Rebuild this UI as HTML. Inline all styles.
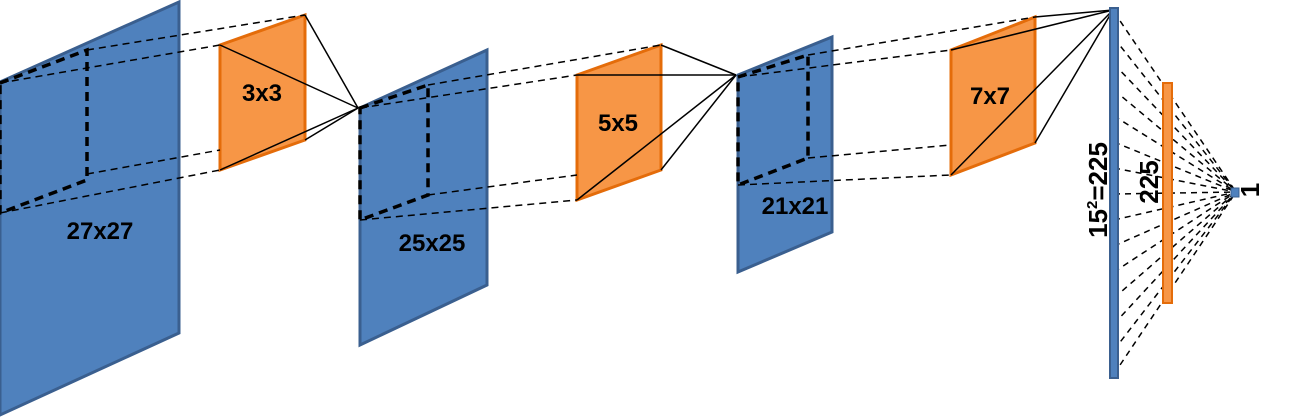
<!DOCTYPE html>
<html><head><style>body{margin:0;background:#fff}svg{display:block}text{font-family:"Liberation Sans",sans-serif;font-weight:bold}</style></head>
<body>
<svg width="1290" height="418" viewBox="0 0 1290 418" xmlns="http://www.w3.org/2000/svg">
<g stroke="#3a5f8f" stroke-width="3" fill="#4f81bd">
<polygon points="0,82 179,2 179,333 0,415"/>
<polygon points="360,108 487,50 487,285 360,345"/>
<polygon points="738,75 832,37 832,232 738,272"/>
</g>
<g stroke="#e46c0a" stroke-width="3" fill="#f79646">
<polygon points="220,45 305,15 305,140 220,170"/>
<polygon points="577,75 661,45 661,170 577,200"/>
<polygon points="951,50 1035,17 1035,143 951,175"/>
</g>
<g stroke="#000" stroke-width="3.5" stroke-dasharray="9,6" fill="none">
<polygon points="0,83 87,50 87,180 0,213"/>
<polygon points="360,108 428,85 428,195 360,220"/>
<polygon points="738,77 808,55 808,158 738,185"/>
</g>
<g stroke="#000" stroke-width="1.5" stroke-dasharray="7,5">
<line x1="87" y1="50" x2="305" y2="15"/><line x1="0" y1="83" x2="220" y2="45"/>
<line x1="87" y1="174" x2="220" y2="150"/><line x1="0" y1="213" x2="220" y2="170"/>
<line x1="428" y1="85" x2="661" y2="45"/><line x1="360" y1="108" x2="577" y2="75"/>
<line x1="428" y1="195" x2="577" y2="175"/><line x1="360" y1="220" x2="577" y2="200"/>
<line x1="808" y1="55" x2="1035" y2="17"/><line x1="738" y1="77" x2="951" y2="50"/>
<line x1="808" y1="158" x2="951" y2="145"/><line x1="738" y1="185" x2="951" y2="175"/>
</g>
<g stroke="#000" stroke-width="1.5">
<line x1="305" y1="15" x2="358" y2="108"/><line x1="220" y1="45" x2="358" y2="108"/>
<line x1="305" y1="140" x2="358" y2="108"/><line x1="220" y1="170" x2="358" y2="108"/>
<line x1="661" y1="45" x2="736" y2="75"/><line x1="577" y1="75" x2="736" y2="75"/>
<line x1="661" y1="170" x2="736" y2="75"/><line x1="577" y1="200" x2="736" y2="75"/>
<line x1="1035" y1="17" x2="1113" y2="10"/><line x1="951" y1="50" x2="1113" y2="10"/>
<line x1="1035" y1="143" x2="1113" y2="10"/><line x1="951" y1="175" x2="1113" y2="10"/>
</g>
<g stroke="#000" stroke-width="1.5" stroke-dasharray="6,5">
<line x1="1114" y1="12" x2="1236" y2="192"/><line x1="1114" y1="38" x2="1236" y2="192"/>
<line x1="1114" y1="64" x2="1236" y2="192"/><line x1="1114" y1="90" x2="1236" y2="192"/>
<line x1="1114" y1="116" x2="1236" y2="192"/><line x1="1114" y1="142" x2="1236" y2="192"/>
<line x1="1114" y1="168" x2="1236" y2="192"/><line x1="1114" y1="194" x2="1236" y2="192"/>
<line x1="1114" y1="220" x2="1236" y2="192"/><line x1="1114" y1="246" x2="1236" y2="192"/>
<line x1="1114" y1="272" x2="1236" y2="192"/><line x1="1114" y1="298" x2="1236" y2="192"/>
<line x1="1114" y1="324" x2="1236" y2="192"/><line x1="1114" y1="350" x2="1236" y2="192"/>
<line x1="1114" y1="374" x2="1236" y2="192"/>
</g>
<rect x="1110" y="8" width="8" height="370" fill="#4f81bd" stroke="#3a5f8f" stroke-width="2"/>
<rect x="1163" y="83" width="9" height="220" fill="#f79646" stroke="#e46c0a" stroke-width="2"/>
<rect x="1231" y="188" width="8" height="9" fill="#4f81bd" stroke="#3a5f8f" stroke-width="1"/>
<g font-size="24" fill="#000" text-anchor="middle">
<text x="100" y="239">27x27</text>
<text x="262" y="101">3x3</text>
<text x="432" y="251">25x25</text>
<text x="618" y="131">5x5</text>
<text x="795" y="214">21x21</text>
<text x="990" y="104">7x7</text>
<text transform="translate(1107,190) rotate(-90)" font-size="26">15<tspan font-size="15" dy="-10">2</tspan><tspan dy="10">=225</tspan></text>
<text transform="translate(1158,182) rotate(-90)" font-size="26">225</text>
<text transform="translate(1259,190) rotate(-90)" font-size="26">1</text>
</g>
</svg>
</body></html>
